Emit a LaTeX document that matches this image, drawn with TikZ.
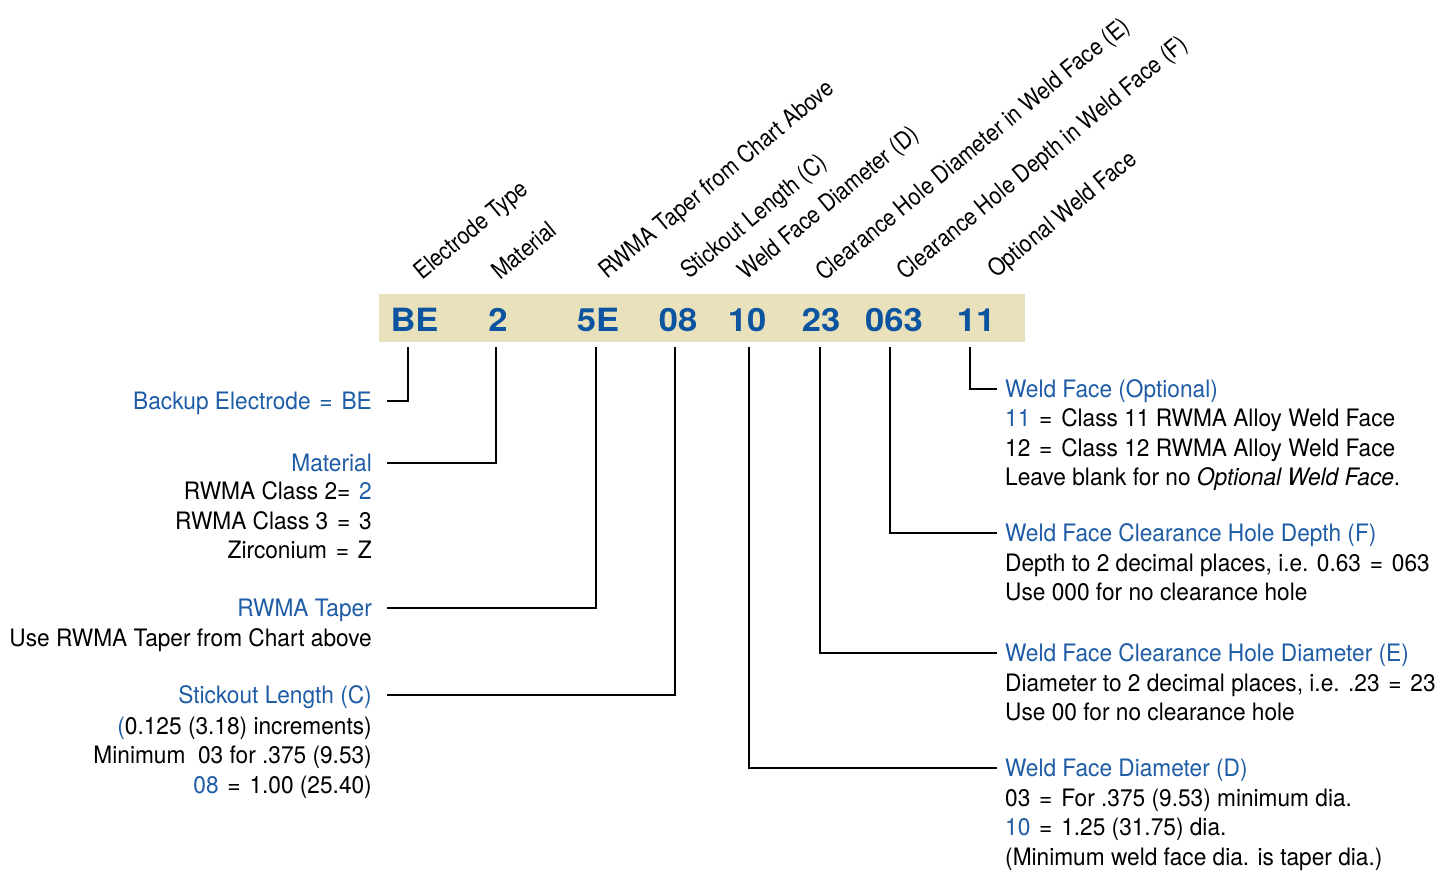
\documentclass[tikz,border=0pt]{standalone}
\usepackage{fontspec}
\setmainfont{TeX Gyre Heros}[FakeStretch=0.945]
\newfontfamily\codefont{TeX Gyre Heros}[FakeStretch=1.08]
\newfontfamily\labfont{TeX Gyre Heros}[FakeStretch=0.88]
\newcommand\myeq{\ \hspace{2.5pt}=\hspace{2.5pt}\ }
\definecolor{tblue}{RGB}{30,92,166}
\definecolor{cblue}{RGB}{12,84,160}
\definecolor{barcol}{RGB}{232,225,188}
\begin{document}
\begin{tikzpicture}[x=1pt,y=-1pt,
  txt/.style={font=\fontsize{24}{29.5}\selectfont, inner sep=0pt},
  code/.style={font=\codefont\bfseries\fontsize{32}{32}\selectfont, text=cblue, inner sep=0pt, text depth=16pt, anchor=base},
  lab/.style={font=\labfont\fontsize{24}{29.5}\selectfont, inner sep=0pt, rotate=39.5, anchor=base west},
  ltitle/.style={txt, text=tblue, anchor=east, inner xsep=15pt, inner ysep=0pt, text height=17pt, text depth=0pt},
  rtitle/.style={txt, text=tblue, anchor=west, inner xsep=8pt, inner ysep=0pt, text height=17pt, text depth=0pt},
  lbody/.style={txt, align=right, anchor=north east},
  rbody/.style={txt, align=left, anchor=north west},
  conn/.style={line width=1.7pt}]
\useasboundingbox (0,0) rectangle (1446,871);
% bar
\node[fill=barcol, minimum width=646pt, minimum height=48pt, inner sep=0pt] (bar) at (702,318) {};
\node[code] (cBE) at (414.5,331) {BE};
\node[code] (c2) at (498,331) {2};
\node[code] (c5E) at (598,331) {5E};
\node[code] (c08) at (678,331) {08};
\node[code] (c10) at (747,331) {10};
\node[code] (c23) at (821,331) {23};
\node[code] (c063) at (894,331) {063};
\node[code] (c11) at (976,331) {11};
% rotated labels
\node[lab] (lET) at (422,281) {Electrode Type};
\node[lab] (lMat) at (500,281) {Material};
\node[lab] (lRT) at (607,280) {RWMA Taper from Chart Above};
\node[lab] (lSL) at (689,280) {Stickout Length (C)};
\node[lab] (lWFD) at (746,281) {Weld Face Diameter (D)};
\node[lab] (lCHD) at (824,282) {Clearance Hole Diameter in Weld Face (E)};
\node[lab] (lCHP) at (905,281) {Clearance Hole Depth in Weld Face (F)};
\node[lab] (lOWF) at (996,279) {Optional Weld Face};
% left titles
\node[ltitle] (tBE) at (387,401) {Backup Electrode\myeq BE};
\node[ltitle] (tMat) at (387,463) {Material};
\node[lbody] (bMat) at ([xshift=-15pt,yshift=-10pt]tMat.south east) {RWMA Class 2=\hspace{2.5pt}\ \textcolor{tblue}{2}\\RWMA Class 3\myeq 3\\Zirconium\myeq Z};
\node[ltitle] (tRT) at (387,608) {RWMA Taper};
\node[lbody] (bRT) at ([xshift=-15pt,yshift=-12pt]tRT.south east) {Use RWMA Taper from Chart above};
\node[ltitle] (tSL) at (387,695) {Stickout Length (C)};
\node[lbody] (bSL) at ([xshift=-15pt,yshift=-13pt]tSL.south east) {\textcolor{tblue}{(}0.125 (3.18) increments)\\Minimum\ \ 03 for .375 (9.53)\\\textcolor{tblue}{08}\myeq 1.00 (25.40)};
% right titles
\node[rtitle] (tOWF) at (997,389) {Weld Face (Optional)};
\node[rbody] (bOWF) at ([xshift=8pt,yshift=-11pt]tOWF.south west) {\textcolor{tblue}{11}\myeq Class 11 RWMA Alloy Weld Face\\12\myeq Class 12 RWMA Alloy Weld Face\\Leave blank for no \textit{Optional Weld Face}.};
\node[rtitle] (tCHP) at (997,533) {Weld Face Clearance Hole Depth (F)};
\node[rbody] (bCHP) at ([xshift=8pt,yshift=-12pt]tCHP.south west) {Depth to 2 decimal places, i.e. 0.63\myeq 063\\Use 000 for no clearance hole};
\node[rtitle] (tCHD) at (997,653) {Weld Face Clearance Hole Diameter (E)};
\node[rbody] (bCHD) at ([xshift=8pt,yshift=-12pt]tCHD.south west) {Diameter to 2 decimal places, i.e. .23\myeq 23\\Use 00 for no clearance hole};
\node[rtitle] (tWFD) at (997,768) {Weld Face Diameter (D)};
\node[rbody] (bWFD) at ([xshift=8pt,yshift=-12pt]tWFD.south west) {03\myeq For .375 (9.53) minimum dia.\\\textcolor{tblue}{10}\myeq 1.25 (31.75) dia.\\(Minimum weld face dia. is taper dia.)};
% connectors
\draw[conn] ([xshift=-6.5pt]cBE.south) |- (tBE.east);
\draw[conn] ([xshift=-2pt]c2.south) |- (tMat.east);
\draw[conn] ([xshift=-2pt]c5E.south) |- (tRT.east);
\draw[conn] ([xshift=-3pt]c08.south) |- (tSL.east);
\draw[conn] ([xshift=2pt]c10.south) |- (tWFD.west);
\draw[conn] ([xshift=-1pt]c23.south) |- (tCHD.west);
\draw[conn] ([xshift=-4pt]c063.south) |- (tCHP.west);
\draw[conn] ([xshift=-6pt]c11.south) |- (tOWF.west);
\end{tikzpicture}
\end{document}
